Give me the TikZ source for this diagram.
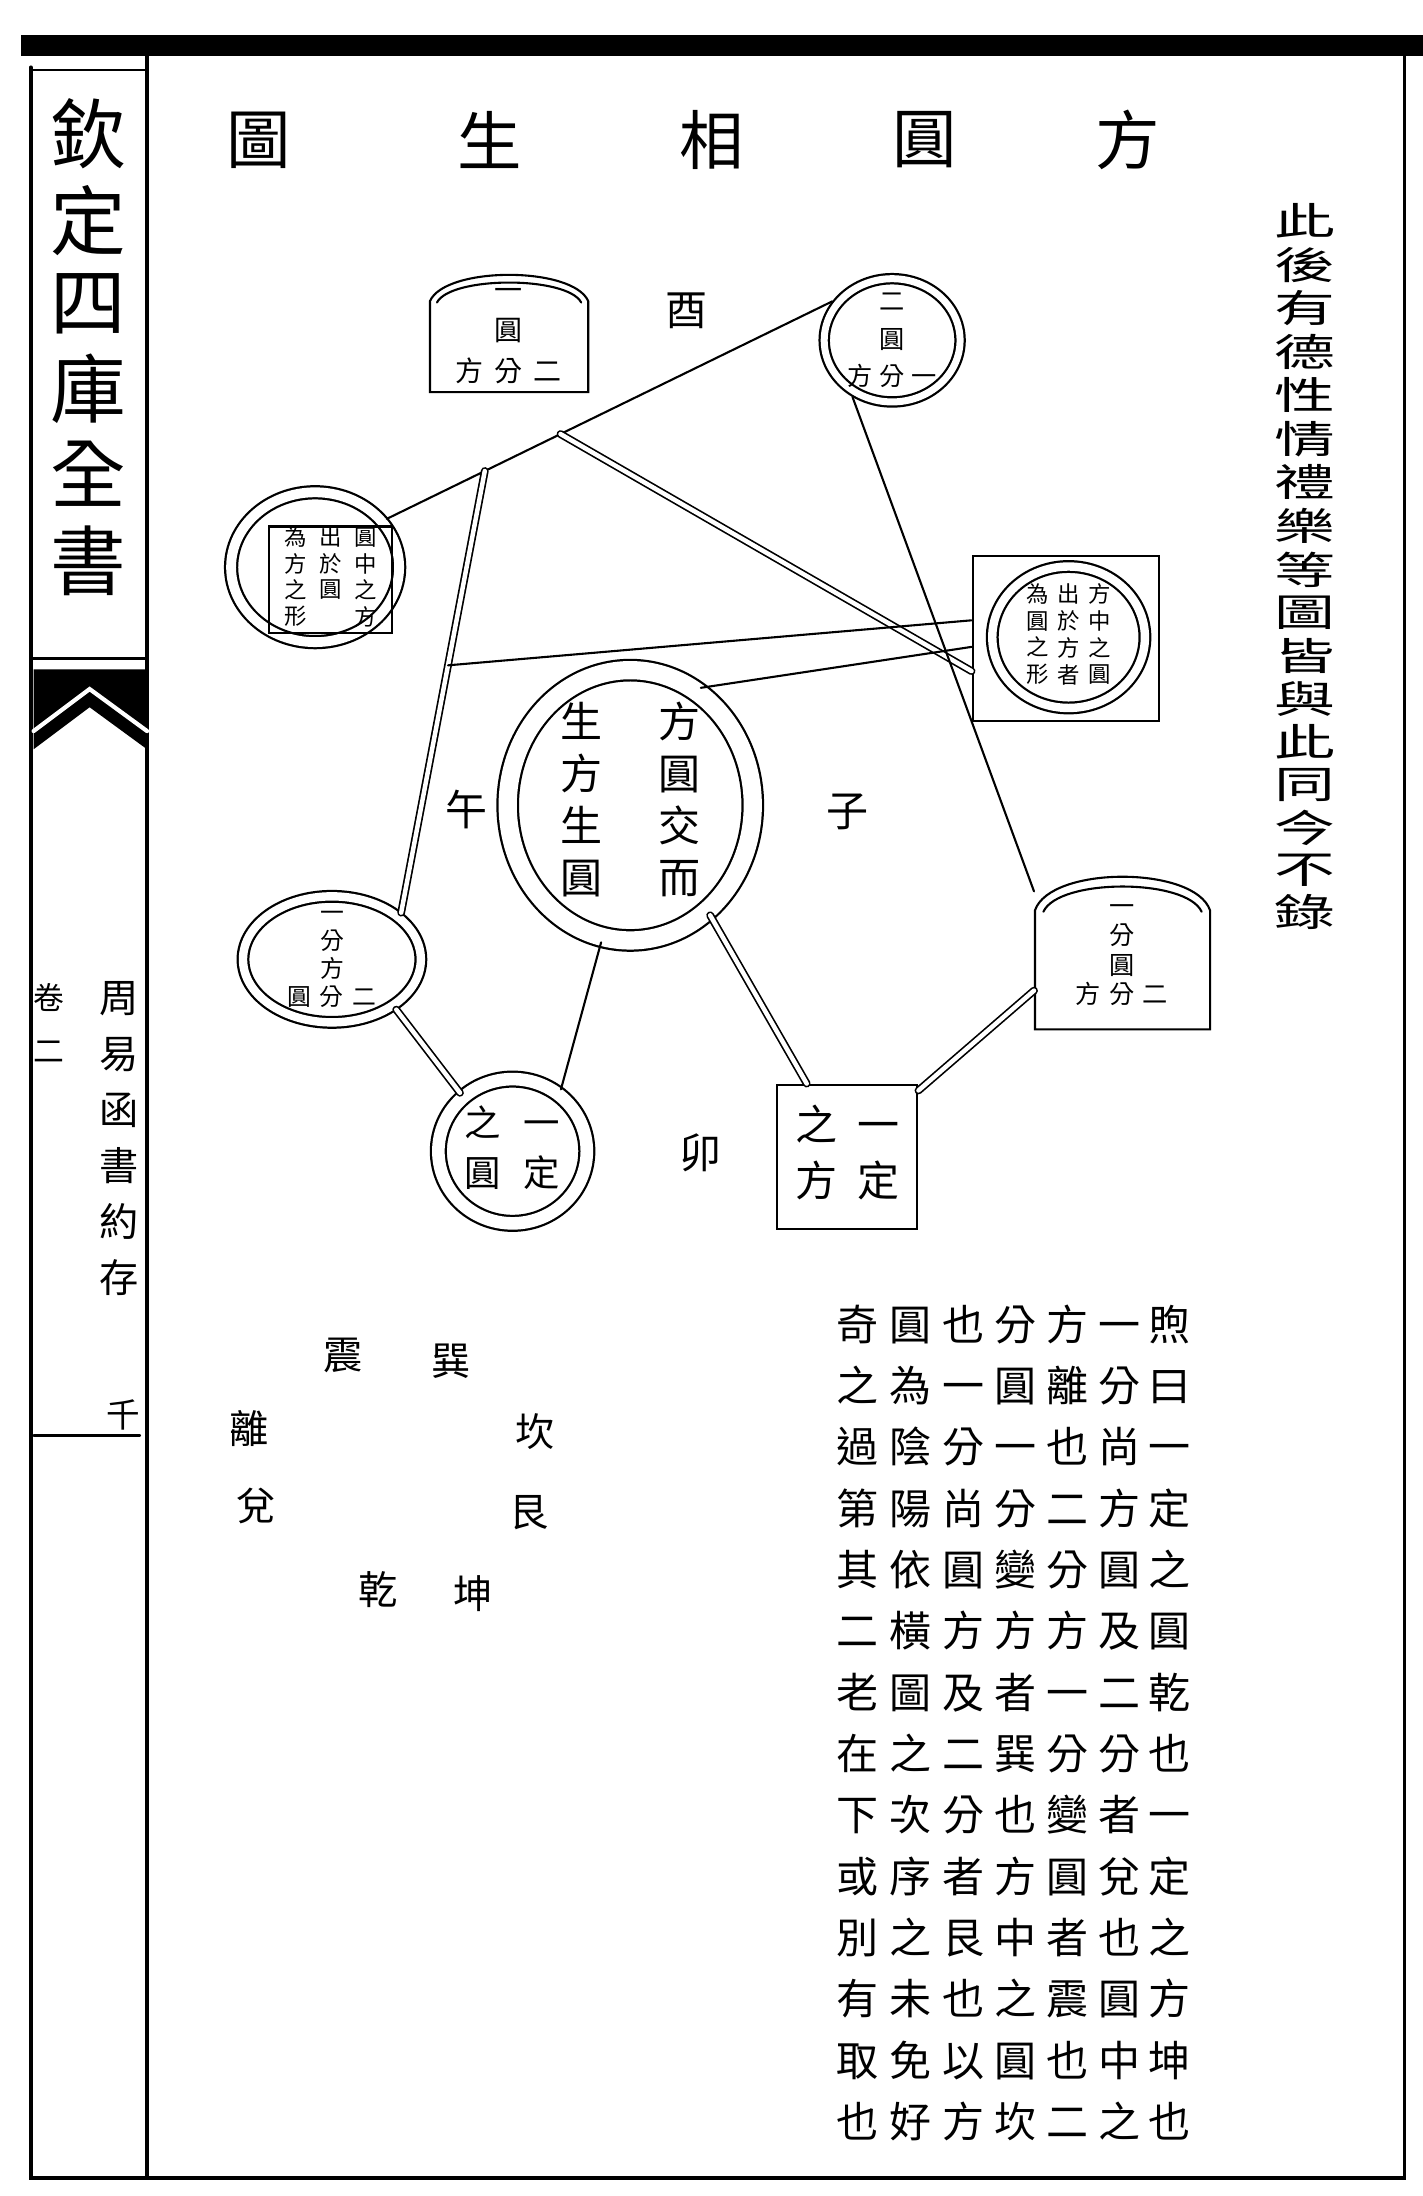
\documentclass[tikz,border=0pt]{standalone}
\usepackage{fontspec}
\setmainfont{Noto Sans CJK TC}
\usetikzlibrary{shapes.geometric, calc, positioning}

\newcommand\zihao[2]{\fontsize{#1}{#2}\selectfont}
\newcommand\colstk[1]{\begin{tabular}[t]{@{}c@{}}#1\end{tabular}}

\begin{document}
\begin{tikzpicture}[
  x=1pt, y=-1pt, line cap=round,
  edge/.style={line width=1.5pt},
  dbl/.style={double, double distance=3.2pt, line width=1.2pt},
  ring/.style={ellipse, draw, double, double distance=#1, line width=1.6pt,
               inner sep=0pt, outer sep=4pt},
  ring/.default=6pt,
  sq/.style={draw, line width=1.6pt, inner sep=0pt},
  txt/.style 2 args={inner sep=0pt, align=center, font=\zihao{#1}{#2}},
  col/.style 2 args={inner sep=0pt, anchor=north, font=\zihao{#1}{#2}},
  title/.style={inner sep=0pt, font=\zihao{46}{46}}
]
\fill[white] (0,0) rectangle (1016,1568);
\useasboundingbox (0,0) rectangle (1016,1568);

% page frame
\fill (15,25) rectangle (1016,40);
\draw[line width=2.5pt] (22,48) -- (22,1555) -- (1003,1555) -- (1003,40);
\draw[line width=3pt] (105,40) -- (105,1555);
\draw[line width=2pt] (22,50) -- (105,50);
\draw[line width=2pt] (22,470) -- (105,470);
\fill (24,478) -- (105,478) -- (105,535) -- (64,505) -- (24,535) -- cycle;
\draw[white, line width=3pt] (24,522) -- (64,492) -- (105,522);
\draw[line width=1.5pt] (24,1025) -- (100,1025);

% margin
\node[col={54}{56}] (kuming) at (63,70) {\colstk{欽\\定\\四\\庫\\全\\書}};
\node[col={28}{40}] (shuming) at (85,695) {\colstk{周\\易\\函\\書\\約\\存}};
\node[col={22}{38}] (juan) at (35,694) {\colstk{卷\\二}};
\node[txt={24}{24}] (yema) at (88,1010) {千};

% title
\foreach \ch/\x [count=\i] in {方/805,圓/660,相/508,生/350,圖/185}
  \node[title] (ti\i) at (\x,100) {\ch};

\node[col={31}{31}] (houtu) at (932,145)
  {\scalebox{1.4}[0.88]{\colstk{此\\後\\有\\德\\性\\情\\禮\\樂\\等\\圖\\皆\\與\\此\\同\\今\\不\\錄}}};

% diagram
\draw[edge] (307,280) -- (307,215) .. controls (318,190) and (409,190) .. (420,215) -- (420,280) -- cycle;
\draw[edge] (312,216) .. controls (322,197) and (405,197) .. (415,216);
\node[txt={20}{29}] (yiyuan) at (363,240) {一\\圓\\方\hspace{8pt}分\hspace{8pt}二};

\node[ring=5pt, minimum width=97, minimum height=88,
  label={[txt={18}{27}]center:{二\\圓\\方\hspace{5pt}分\hspace{5pt}一}}] (eryuan) at (637,243) {};

\node[ring=7pt, minimum width=120, minimum height=107] (yuanzhong) at (225,405) {};
\node[sq, minimum width=88, minimum height=76, font=\zihao{16}{18}] (yzsq) at (236,414)
  {\colstk{為\\方\\之\\形}\hspace{9pt}\colstk{出\\於\\圓}\hspace{9pt}\colstk{圓\\中\\之\\方}};

\node[sq, minimum width=133, minimum height=118] (fangzhong) at (761,456) {};
\node[ring=6pt, minimum width=109, minimum height=101,
  label={[txt={16}{19}]center:{\colstk{為\\圓\\之\\形}\hspace{6pt}\colstk{出\\於\\方\\者}\hspace{6pt}\colstk{方\\中\\之\\圓}}}] (fzring) at (763,455) {};

\node[ring=13pt, minimum width=175, minimum height=193,
  label={[txt={30}{37}]center:{\colstk{生\\方\\生\\圓}\hspace{40pt}\colstk{方\\圓\\交\\而}}}] (jiaosheng) at (450,575) {};

\node[ring=6pt, minimum width=127, minimum height=90,
  label={[txt={17}{20}]center:{一\\分\\方\\圓\hspace{6pt}分\hspace{6pt}二}}] (yifenfang) at (237,685) {};

\draw[edge] (739,735) -- (739,650) .. controls (750,618) and (853,618) .. (864,650) -- (864,735) -- cycle;
\draw[edge] (745,651) .. controls (756,627) and (847,627) .. (858,651);
\node[txt={18}{21}, minimum width=125, minimum height=113] (yifenyuan) at (801,682)
  {一\\分\\圓\\方\hspace{6pt}分\hspace{6pt}二};

\node[ring=9pt, minimum width=106, minimum height=103,
  label={[txt={26}{36}]center:{\colstk{之\\圓}\hspace{16pt}\colstk{一\\定}}}] (dingyuan) at (366,822) {};
\node[sq, minimum width=100, minimum height=103, font=\zihao{30}{40}] (dingfang) at (605,826)
  {\colstk{之\\方}\hspace{14pt}\colstk{一\\定}};

\node[txt={30}{30}] (you) at (490,222) {酉};
\node[txt={30}{30}] (wu) at (333,578) {午};
\node[txt={30}{30}] (zi) at (605,580) {子};
\node[txt={30}{30}] (mao) at (500,823) {卯};

% connectors
\draw[edge] (eryuan.147) -- (yuanzhong.34) coordinate[pos=0.61] (ja) coordinate[pos=0.78] (jb);
\draw[dbl] (ja) -- (fangzhong.199);
\draw[dbl] (jb) -- (yifenfang.34) coordinate[pos=0.44] (jc);
\draw[edge] (jc) -- (fangzhong.169);
\draw[edge] (eryuan.235) -- (yifenyuan.144);
\draw[edge] (jiaosheng.59) -- (fangzhong.185);
\draw[edge] (jiaosheng.258) -- (dingyuan.52);
\draw[dbl] (jiaosheng.306) -- (dingfang.119);
\draw[dbl] (yifenfang.322) -- (dingyuan.132);
\draw[dbl] (dingfang.43) -- (yifenyuan.202);

% trigrams
\foreach \gua/\x/\y [count=\i] in {震/245/968,巽/322/972,離/178/1020,坎/382/1022,兌/183/1075,艮/378/1080,乾/270/1135,坤/338/1138}
  \node[txt={28}{28}] (gua\i) at (\x,\y) {\gua};

% commentary
\node[col={30}{43.8}] (wen1) at (835,926) {\colstk{煦\\曰\\一\\定\\之\\圓\\乾\\也\\一\\定\\之\\方\\坤\\也}};
\node[col={30}{43.8}] (wen2) at (799,926) {\colstk{一\\分\\尚\\方\\圓\\及\\二\\分\\者\\兌\\也\\圓\\中\\之}};
\node[col={30}{43.8}] (wen3) at (762,926) {\colstk{方\\離\\也\\二\\分\\方\\一\\分\\變\\圓\\者\\震\\也\\二}};
\node[col={30}{43.8}] (wen4) at (725,926) {\colstk{分\\圓\\一\\分\\變\\方\\者\\巽\\也\\方\\中\\之\\圓\\坎}};
\node[col={30}{43.8}] (wen5) at (688,926) {\colstk{也\\一\\分\\尚\\圓\\方\\及\\二\\分\\者\\艮\\也\\以\\方}};
\node[col={30}{43.8}] (wen6) at (650,926) {\colstk{圓\\為\\陰\\陽\\依\\橫\\圖\\之\\次\\序\\之\\未\\免\\好}};
\node[col={30}{43.8}] (wen7) at (612,926) {\colstk{奇\\之\\過\\第\\其\\二\\老\\在\\下\\或\\別\\有\\取\\也}};
\end{tikzpicture}
\end{document}
